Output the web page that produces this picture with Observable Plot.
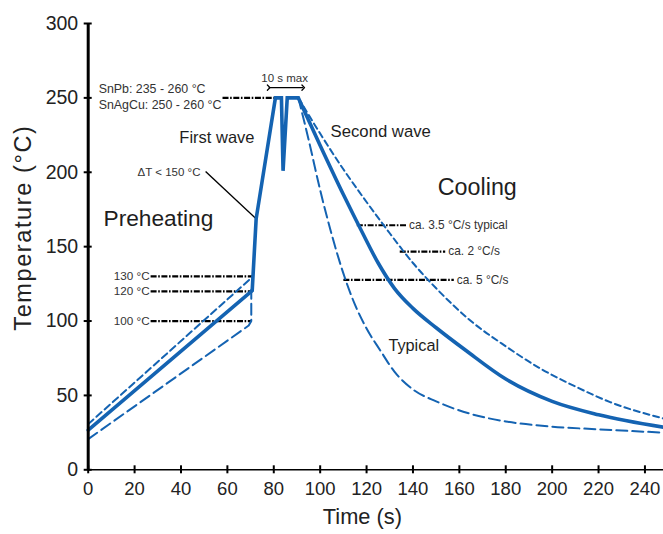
<!DOCTYPE html>
<html>
<head>
<meta charset="utf-8">
<script src="https://cdn.jsdelivr.net/npm/d3@7"></script>
<script src="https://cdn.jsdelivr.net/npm/@observablehq/plot@0.6"></script>
<style>
  html, body { margin: 0; padding: 0; background: #fff; }
</style>
</head>
<body>
<div id="chart"></div>
<script>
// ---- data ----
const xTicks = [0, 20, 40, 60, 80, 100, 120, 140, 160, 180, 200, 220, 240];
const yTicks = [0, 50, 100, 150, 200, 250, 300];

// typical profile: preheat + two waves
const heatTime = [0, 70.7, 72.4, 80.7, 83.3, 84, 85.8, 90.6];
const heatTemp = [26.7, 120.5, 168.7, 250, 250, 201, 250, 250];

// preheat limits
const preUpperTime = [0, 70.7];
const preUpperTemp = [30.7, 129.5];
const preLowerTime = [0, 69.2, 70.3, 70.3];
const preLowerTemp = [20.6, 97, 100, 121];

// cooling curves
const coolTypicalTime = [90.6, 100, 110, 118, 125, 132, 140, 150, 163, 180, 200, 220, 248];
const coolTypicalTemp = [250, 218, 185, 160, 139, 122, 108.5, 95.5, 80, 61, 46, 37, 28.6];
const coolSlowTime = [90.6, 100, 110, 120, 130, 140, 150, 165, 180, 195, 210, 225, 248];
const coolSlowTemp = [250, 226, 202, 180, 159, 139, 122, 100, 83, 68, 56, 45.5, 34.5];
const coolFastTime = [90.6, 95, 100, 105, 110, 115, 120, 126, 132, 140, 150, 165, 180, 200, 220, 248];
const coolFastTemp = [250, 222, 188, 158, 132, 111, 95, 80, 66, 54, 46, 37.5, 32.5, 29, 27.2, 25];

// preheat reference levels
const levelTemps = [130, 120, 100];
const levelLabels = ["130 °C", "120 °C", "100 °C"];
const levelStart = [26.9, 26.9, 26.9];
const levelEnd = [70.7, 70.7, 70.3];

// cooling rate markers
const rateLabels = ["ca. 3.5 °C/s typical", "ca. 2 °C/s", "ca. 5 °C/s"];
const rateTemps = [164.4, 146.7, 127.7];
const rateStart = [115.8, 134.3, 110];
const rateEnd = [137, 153.9, 157.6];

// peak band
const peakLabels = ["SnPb: 235 - 260 °C", "SnAgCu: 250 - 260 °C"];
const peakTemp = 250;
const peakStart = 57.9;
const peakEnd = 80.7;

// ---- helpers ----
const rows = (xs, ys) => xs.map((x, i) => ({x, y: ys[i]}));
const BLUE = "#1463b2";
const INK = "#222";
const NOTE = "#333";
const FONT = "'Liberation Sans', Arial, Helvetica, sans-serif";
const DASHDOT = "6,1.6,1.6,1.6";

const levels = levelTemps.map((t, i) => ({y: t, x1: levelStart[i], x2: levelEnd[i], label: levelLabels[i]}));
const rates = rateTemps.map((t, i) => ({y: t, x1: rateStart[i], x2: rateEnd[i], label: rateLabels[i]}));

const chart = Plot.plot({
  width: 663,
  height: 534,
  marginLeft: 87.7,
  marginRight: 0,
  marginTop: 23,
  marginBottom: 64.7,
  style: {fontFamily: FONT, background: "#fff", overflow: "visible"},
  x: {domain: [0, 248], ticks: xTicks},
  y: {domain: [0, 300], ticks: yTicks},
  marks: [
    // preheat reference levels
    Plot.link(levels, {x1: "x1", x2: "x2", y1: "y", y2: "y", stroke: "#000", strokeWidth: 2.2, strokeDasharray: DASHDOT}),
    Plot.text(levels, {x: "x1", y: "y", text: "label", textAnchor: "end", dx: -1, fontSize: 11.7, fill: NOTE}),
    // peak band
    Plot.link([peakTemp], {x1: peakStart, x2: peakEnd, y1: d => d, y2: d => d, stroke: "#000", strokeWidth: 2.2, strokeDasharray: DASHDOT}),
    Plot.text([peakLabels[0]], {x: 4.5, y: 256.2, text: d => d, textAnchor: "start", fontSize: 12.4, fill: NOTE}),
    Plot.text([peakLabels[1]], {x: 4.5, y: 245.4, text: d => d, textAnchor: "start", fontSize: 12.4, fill: NOTE}),
    // 10 s max
    Plot.link([0], {x1: 77.8, x2: 92.7, y1: 256.9, y2: 256.9, stroke: "#000", strokeWidth: 1.3, markerStart: "arrow", markerEnd: "arrow"}),
    Plot.text(["10 s max"], {x: 84.7, y: 262.9, text: d => d, fontSize: 11.5, fill: NOTE}),
    // delta T leader
    Plot.link([0], {x1: 50.6, y1: 200.5, x2: 72.4, y2: 168.7, stroke: "#000", strokeWidth: 1.4}),
    Plot.text(["ΔT < 150 °C"], {x: 48.4, y: 199.8, text: d => d, textAnchor: "end", fontSize: 11.5, fill: NOTE}),
    // cooling rate markers
    Plot.link(rates, {x1: "x1", x2: "x2", y1: "y", y2: "y", stroke: "#000", strokeWidth: 2.2, strokeDasharray: DASHDOT}),
    Plot.text(rates, {x: "x2", y: "y", text: "label", textAnchor: "start", dx: 3, fontSize: 11.9, fill: NOTE}),

    // preheat limits
    Plot.line(rows(preUpperTime, preUpperTemp), {x: "x", y: "y", stroke: BLUE, strokeWidth: 2, strokeDasharray: "7,4"}),
    Plot.line(rows(preLowerTime, preLowerTemp), {x: "x", y: "y", stroke: BLUE, strokeWidth: 2, strokeDasharray: "11,5"}),
    // cooling limits
    Plot.line(rows(coolSlowTime, coolSlowTemp), {x: "x", y: "y", stroke: BLUE, strokeWidth: 2, strokeDasharray: "6,4", curve: "monotone-x"}),
    Plot.line(rows(coolFastTime, coolFastTemp), {x: "x", y: "y", stroke: BLUE, strokeWidth: 2, strokeDasharray: "11,5", curve: "monotone-x"}),
    // typical profile
    Plot.line(rows(heatTime, heatTemp), {x: "x", y: "y", stroke: BLUE, strokeWidth: 3.6, strokeLinejoin: "miter", strokeMiterlimit: 10}),
    Plot.line(rows(coolTypicalTime, coolTypicalTemp), {x: "x", y: "y", stroke: BLUE, strokeWidth: 3.6, curve: "monotone-x"}),

    // section labels
    Plot.text(["Preheating"], {x: 6.6, y: 168.9, text: d => d, textAnchor: "start", fontSize: 22.7, fill: "#1e1e1e"}),
    Plot.text(["First wave"], {x: 55.5, y: 223.3, text: d => d, fontSize: 16.5, fill: "#1e1e1e"}),
    Plot.text(["Second wave"], {x: 104.5, y: 227.3, text: d => d, textAnchor: "start", fontSize: 16.7, fill: "#1e1e1e"}),
    Plot.text(["Cooling"], {x: 150.7, y: 189.7, text: d => d, textAnchor: "start", fontSize: 23.3, fill: "#1e1e1e"}),
    Plot.text(["Typical"], {x: 129.4, y: 83.5, text: d => d, textAnchor: "start", fontSize: 16.3, fill: "#1e1e1e"}),

    // axes
    Plot.ruleY([0], {x1: 0, x2: 248, stroke: "#000", strokeWidth: 1.6}),
    Plot.ruleX([0], {y1: 0, y2: 300, stroke: "#000", strokeWidth: 3}),
    Plot.axisX({ticks: xTicks, tickSize: 8, dy: -4, fill: "none", stroke: "#000", strokeWidth: 2, label: null}),
    Plot.axisY({ticks: yTicks, tickSize: 8, dx: 4, fill: "none", stroke: "#000", strokeWidth: 2, label: null}),
    Plot.axisX({ticks: xTicks, tickSize: 0, tickPadding: 12, fontSize: 18.5, fill: INK, label: null}),
    Plot.axisY({ticks: yTicks, tickSize: 0, tickPadding: 10, fontSize: 19.5, fill: INK, label: null}),
    Plot.text(["Temperature (°C)"], {frameAnchor: "left", textAnchor: "middle", dx: -65, dy: -19, rotate: -90, text: d => d, fontSize: 23.5, fill: INK}),
    Plot.text(["Time (s)"], {x: 118.2, frameAnchor: "bottom", dy: 54, text: d => d, fontSize: 21.8, fill: INK})
  ]
});
d3.select(chart).selectAll("text")
  .filter(function () { return this.textContent === "Temperature (°C)"; })
  .style("letter-spacing", "1.6px");
document.getElementById("chart").appendChild(chart);
</script>
</body>
</html>
